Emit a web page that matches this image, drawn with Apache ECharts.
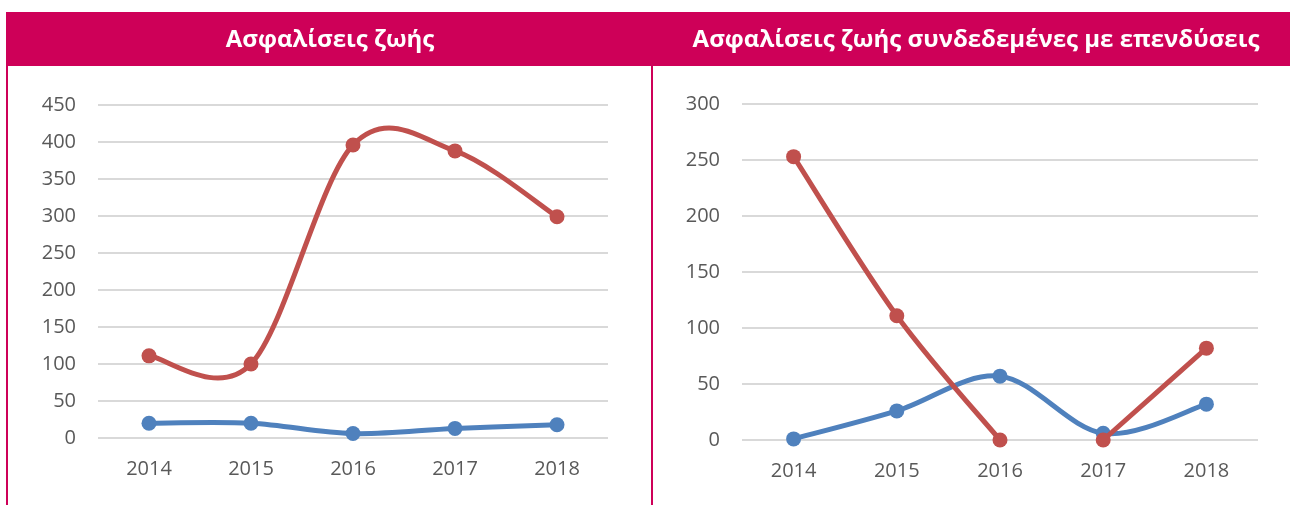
<!DOCTYPE html>
<html>
<head>
<meta charset="utf-8">
<script src="https://cdn.jsdelivr.net/npm/echarts@6/dist/echarts.min.js"></script>
<style>
html,body{margin:0;padding:0;background:#fff;}
#chart{width:1290px;height:505px;}
</style>
</head>
<body>
<div id="chart"></div>
<script>
// ---- data ----
const years = ['2014', '2015', '2016', '2017', '2018'];
const leftTitle = 'Ασφαλίσεις ζωής';
const rightTitle = 'Ασφαλίσεις ζωής συνδεδεμένες με επενδύσεις';
const leftBlue = [20, 20, 6, 13, 18];
const leftRed = [111, 100, 396, 388, 299];
const rightBlue = [1, 26, 57, 6, 32];
const rightRed = [253, 111, 0, 0, 82];
const rightRedGapAfter = 2; // no line drawn between 2016 and 2017
const leftTicks = { min: 0, max: 450, interval: 50 };
const rightTicks = { min: 0, max: 300, interval: 50 };

const MAGENTA = '#CE0058';
const BLUE = '#4F81BD';
const RED = '#C0504D';
const LABEL = '#595959';
const FONT = '"Open Sans", "Noto Sans", sans-serif';
const LW = 5;
const SYM = 15;

// runs of connected points [start, end]
function runsFor(n, gapAfter) {
  if (gapAfter == null) return [[0, n - 1]];
  return [[0, gapAfter], [gapAfter + 1, n - 1]];
}

// Smooth (Catmull-Rom style) curve, each segment drawn through the axis scales
function curveSeries(values, runs, color, xi, z) {
  const segs = [];
  runs.forEach(function (r) {
    for (let i = r[0]; i < r[1]; i++) segs.push([i, values[i], r[0], r[1]]);
  });
  return {
    type: 'custom', xAxisIndex: xi, yAxisIndex: xi, data: segs, z: z,
    encode: { x: 0, y: 1 }, animation: false, silent: true,
    renderItem: function (params, api) {
      const i = api.value(0), s = api.value(2), e = api.value(3);
      const P = function (k) { return api.coord([k, values[k]]); };
      const p0 = P(Math.max(i - 1, s)), p1 = P(i), p2 = P(i + 1), p3 = P(Math.min(i + 2, e));
      const c1 = [p1[0] + (p2[0] - p0[0]) / 6, p1[1] + (p2[1] - p0[1]) / 6];
      const c2 = [p2[0] - (p3[0] - p1[0]) / 6, p2[1] - (p3[1] - p1[1]) / 6];
      return {
        type: 'bezierCurve',
        shape: { x1: p1[0], y1: p1[1], x2: p2[0], y2: p2[1], cpx1: c1[0], cpy1: c1[1], cpx2: c2[0], cpy2: c2[1] },
        style: { stroke: color, lineWidth: LW, fill: null, lineCap: 'round' }
      };
    }
  };
}
function markerSeries(values, color, xi, z) {
  return {
    type: 'scatter', xAxisIndex: xi, yAxisIndex: xi, data: values, z: z,
    symbol: 'circle', symbolSize: SYM, itemStyle: { color: color, opacity: 1 },
    animation: false, silent: true
  };
}

function xAxis(gi) {
  return {
    type: 'category', gridIndex: gi, data: years, boundaryGap: true,
    axisLine: { show: false }, axisTick: { show: false },
    axisLabel: { color: LABEL, fontSize: 20, fontFamily: FONT, margin: 21 }
  };
}
function yAxis(gi, t) {
  return {
    type: 'value', gridIndex: gi, min: t.min, max: t.max, interval: t.interval,
    axisLine: { show: false }, axisTick: { show: false },
    axisLabel: { color: LABEL, fontSize: 20, fontFamily: FONT, margin: 22 },
    splitLine: { lineStyle: { color: '#D9D9D9', width: 2 } }
  };
}

const chart = echarts.init(document.getElementById('chart'), null, { renderer: 'canvas' });
chart.setOption({
  backgroundColor: '#ffffff',
  animation: false,
  graphic: [
    { type: 'rect', shape: { x: 6, y: 12, width: 1284, height: 54 }, style: { fill: MAGENTA }, z: -10 },
    { type: 'rect', shape: { x: 6, y: 66, width: 2, height: 439 }, style: { fill: MAGENTA }, z: -10 },
    { type: 'rect', shape: { x: 651, y: 66, width: 2, height: 439 }, style: { fill: MAGENTA }, z: -10 },
    { type: 'text', x: 330, y: 40, z: 10,
      style: { text: leftTitle, fill: '#fff', font: 'bold 24px ' + FONT, textAlign: 'center', textVerticalAlign: 'middle' } },
    { type: 'text', x: 976, y: 40, z: 10,
      style: { text: rightTitle, fill: '#fff', font: 'bold 24px ' + FONT, textAlign: 'center', textVerticalAlign: 'middle' } }
  ],
  grid: [
    { left: 98, right: 682, top: 105, bottom: 67 },
    { left: 742, right: 32, top: 104, bottom: 65 }
  ],
  xAxis: [xAxis(0), xAxis(1)],
  yAxis: [yAxis(0, leftTicks), yAxis(1, rightTicks)],
  series: [
    curveSeries(leftBlue, runsFor(5, null), BLUE, 0, 2),
    markerSeries(leftBlue, BLUE, 0, 3),
    curveSeries(leftRed, runsFor(5, null), RED, 0, 4),
    markerSeries(leftRed, RED, 0, 5),
    curveSeries(rightBlue, runsFor(5, null), BLUE, 1, 2),
    markerSeries(rightBlue, BLUE, 1, 3),
    curveSeries(rightRed, runsFor(5, rightRedGapAfter), RED, 1, 4),
    markerSeries(rightRed, RED, 1, 5)
  ]
});
</script>
</body>
</html>
